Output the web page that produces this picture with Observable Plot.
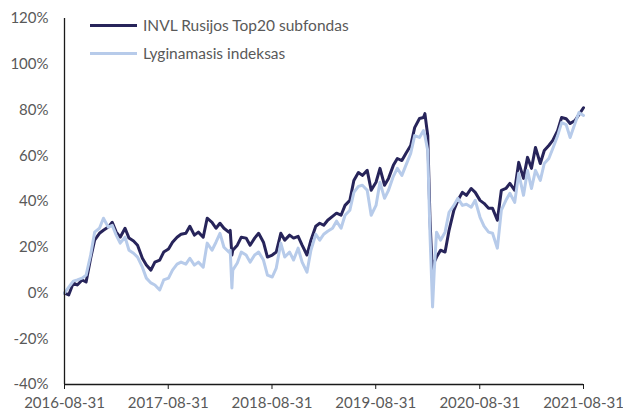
<!DOCTYPE html>
<html>
<head>
<meta charset="utf-8">
<script src="https://cdn.jsdelivr.net/npm/d3@7"></script>
<script src="https://cdn.jsdelivr.net/npm/@observablehq/plot@0.6"></script>
<style>
  html, body { margin: 0; padding: 0; background: #fff; }
  #wrap { position: relative; width: 623px; height: 413px; font-family: Lato, "Open Sans", sans-serif; }
  .leg { position: absolute; left: 90px; display: flex; align-items: center; font-size: 15.5px; color: #595959; white-space: nowrap; }
  .leg .sw { width: 47px; height: 3px; margin-right: 6px; }
</style>
</head>
<body>
<div id="wrap"></div>
<script>
const seriesNames = ["INVL Rusijos Top20 subfondas", "Lyginamasis indeksas"];
const seriesColors = ["#27245A", "#B7CBEA"];

const dates = [
  "2016-08-31","2016-09-15","2016-10-01","2016-10-15","2016-11-01","2016-11-15","2016-12-01","2016-12-15",
  "2017-01-01","2017-01-15","2017-02-01","2017-02-15","2017-03-01","2017-03-15","2017-04-01","2017-04-15",
  "2017-05-01","2017-05-15","2017-06-01","2017-06-15","2017-07-01","2017-07-15","2017-08-01","2017-08-15",
  "2017-09-01","2017-09-15","2017-10-01","2017-10-15","2017-11-01","2017-11-15","2017-12-01","2017-12-15",
  "2018-01-01","2018-01-15","2018-02-01","2018-02-15","2018-03-01","2018-03-15","2018-04-01","2018-04-06",
  "2018-04-12","2018-04-15","2018-05-01","2018-05-15","2018-06-01","2018-06-15","2018-07-01","2018-07-15",
  "2018-08-01","2018-08-15","2018-09-01","2018-09-15","2018-10-01","2018-10-15","2018-11-01","2018-11-15",
  "2018-12-01","2018-12-15","2019-01-01","2019-01-15","2019-02-01","2019-02-15","2019-03-01","2019-03-15",
  "2019-04-01","2019-04-15","2019-05-01","2019-05-15","2019-06-01","2019-06-15","2019-07-01","2019-07-15",
  "2019-08-01","2019-08-15","2019-09-01","2019-09-15","2019-10-01","2019-10-15","2019-11-01","2019-11-15",
  "2019-12-01","2019-12-15","2020-01-01","2020-01-15","2020-02-01","2020-02-15","2020-02-20","2020-03-01",
  "2020-03-09","2020-03-18","2020-03-24","2020-04-01","2020-04-15","2020-05-01","2020-05-15","2020-06-01",
  "2020-06-15","2020-07-01","2020-07-15","2020-08-01","2020-08-15","2020-09-01","2020-09-15","2020-10-01",
  "2020-10-15","2020-11-01","2020-11-15","2020-12-01","2020-12-15","2021-01-01","2021-01-15","2021-02-01",
  "2021-02-15","2021-03-01","2021-03-15","2021-04-01","2021-04-15","2021-05-01","2021-05-15","2021-06-01",
  "2021-06-15","2021-07-01","2021-07-15","2021-08-01","2021-08-15","2021-08-31"
];

const fund = [
  0, -0.8, 4.4, 3.5, 5.7, 4.8, 15.2, 23.1,
  26.1, 27.4, 28.8, 30.9, 26.6, 24.4, 28.3, 24.0,
  22.7, 20.9, 15.2, 12.2, 10.0, 13.5, 14.4, 17.9,
  19.2, 22.2, 24.4, 25.7, 26.1, 29.2, 25.3, 26.6,
  24.4, 32.7, 30.9, 28.3, 30.5, 28.3, 26.6, 27.4,
  16.6, 18.7, 20.9, 24.4, 24.0, 20.9, 24.0, 26.1,
  22.2, 15.7, 16.6, 17.9, 26.1, 23.1, 25.3, 24.0,
  24.8, 20.9, 16.6, 23.1, 29.2, 30.5, 29.6, 31.8,
  33.5, 34.9, 34.0, 38.3, 40.5, 49.2, 52.7, 51.4,
  53.6, 44.9, 48.4, 54.5, 47.1, 50.1, 55.8, 58.8,
  57.9, 61.0, 64.5, 72.3, 76.3, 76.7, 78.4, 68.8,
  31.8, 7.0, 13.5, 15.7, 18.7, 17.9, 27.4, 36.2,
  40.5, 44.0, 42.7, 45.7, 44.0, 40.5, 39.2, 37.0,
  37.0, 31.8, 44.9, 45.7, 47.9, 44.9, 57.1, 50.1,
  59.3, 54.5, 63.6, 56.6, 62.3, 64.5, 66.7, 71.0,
  76.7, 76.2, 74.1, 75.4, 78.0, 81.0
];

const bench = [
  0, 2.6, 5.2, 5.7, 6.5, 7.8, 16.6, 26.6,
  28.3, 32.7, 28.8, 29.6, 25.3, 21.8, 24.4, 18.7,
  17.4, 15.7, 11.3, 6.5, 4.4, 3.5, 1.3, 5.7,
  6.5, 10.0, 12.6, 13.5, 12.6, 15.2, 12.2, 13.5,
  11.3, 21.8, 18.7, 22.2, 26.1, 20.0, 17.9, 18.7,
  2.2, 10.0, 13.1, 17.9, 16.6, 13.5, 16.6, 17.9,
  14.4, 7.8, 7.0, 10.9, 21.8, 15.7, 17.9, 14.4,
  19.6, 13.5, 9.1, 18.7, 25.7, 23.1, 25.7, 27.0,
  28.3, 31.4, 28.3, 34.0, 36.2, 44.0, 46.6, 47.1,
  44.9, 34.0, 38.3, 48.4, 41.4, 44.9, 51.0, 54.5,
  51.4, 55.8, 61.0, 68.8, 68.0, 71.0, 68.8, 62.3,
  25.3, -6.1, 10.0, 26.6, 23.1, 26.6, 35.3, 38.3,
  41.4, 38.3, 38.8, 37.5, 40.5, 33.1, 29.2, 26.6,
  26.1, 19.6, 36.2, 40.5, 43.6, 39.6, 52.3, 42.7,
  53.6, 45.7, 53.6, 49.2, 56.6, 58.8, 63.2, 68.8,
  74.5, 73.6, 68.0, 74.1, 78.9, 77.6
];

const xTicks = ["2016-08-31","2017-08-31","2018-08-31","2019-08-31","2020-08-31","2021-08-31"];
const yTicks = [-40, -20, 0, 20, 40, 60, 80, 100, 120];

const parse = d3.utcParse("%Y-%m-%d");
const fundRows = dates.map((d, i) => ({date: parse(d), value: fund[i]}));
const benchRows = dates.map((d, i) => ({date: parse(d), value: bench[i]}));
const xT = xTicks.map(parse);

const chart = Plot.plot({
  width: 623,
  height: 413,
  marginLeft: 64,
  marginRight: 40,
  marginTop: 18,
  marginBottom: 29,
  style: {fontFamily: "Lato, 'Open Sans', sans-serif", fontSize: "15px", color: "#595959", background: "#fff"},
  x: {type: "utc", domain: [xT[0], xT[xT.length - 1]], label: null},
  y: {domain: [yTicks[0], yTicks[yTicks.length - 1]], label: null},
  marks: [
    Plot.axisY({ticks: yTicks, tickFormat: d => d + "%", tickSize: 0, tickPadding: 16, fill: "#595959", label: null}),
    Plot.axisX({ticks: xT, tickFormat: d3.utcFormat("%Y-%m-%d"), tickSize: 5, tickPadding: 8, stroke: "#1a1a1a", fill: "#595959", label: null}),
    Plot.line(fundRows, {x: "date", y: "value", stroke: seriesColors[0], strokeWidth: 3, strokeLinejoin: "round"}),
    Plot.line(benchRows, {x: "date", y: "value", stroke: seriesColors[1], strokeWidth: 3, strokeLinejoin: "round"}),
    Plot.ruleX([xT[0]], {y1: yTicks[0], y2: yTicks[yTicks.length - 1], stroke: "#1a1a1a", strokeWidth: 1.3}),
    Plot.ruleY([yTicks[0]], {stroke: "#1a1a1a", strokeWidth: 1.3})
  ]
});

const wrap = document.getElementById("wrap");
wrap.appendChild(chart);

seriesNames.forEach((name, i) => {
  const row = document.createElement("div");
  row.className = "leg";
  row.style.top = (i === 0 ? 16 : 44) + "px";
  const sw = document.createElement("span");
  sw.className = "sw";
  sw.style.background = seriesColors[i];
  const tx = document.createElement("span");
  tx.textContent = name;
  row.appendChild(sw);
  row.appendChild(tx);
  wrap.appendChild(row);
});
</script>
</body>
</html>
